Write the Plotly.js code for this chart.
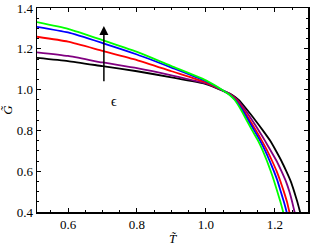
<!DOCTYPE html>
<html><head><meta charset="utf-8">
<script src="https://cdn.plot.ly/plotly-3.0.1.min.js"></script>
<style>html,body{margin:0;padding:0;background:#fff}</style>
</head><body><div id="chart" style="width:312px;height:249px"></div>
<script>
// left branch: shared T values
const tLeft = [0.51, 0.6, 0.7, 0.8, 0.9, 1.0, 1.055];
const gGreenL = [1.331, 1.298, 1.243, 1.185, 1.115, 1.045, 0.99];
const gBlueL = [1.308, 1.28, 1.228, 1.172, 1.108, 1.041, 0.99];
const gRedL = [1.259, 1.235, 1.19, 1.145, 1.09, 1.035, 0.99];
const gPurpleL = [1.183, 1.165, 1.133, 1.105, 1.07, 1.03, 0.99];
const gBlackL = [1.156, 1.14, 1.115, 1.09, 1.06, 1.027, 0.99];

// right branch: shared G levels, T read per series
const gRight = [0.975, 0.95, 0.9, 0.85, 0.8, 0.75, 0.7, 0.65, 0.6, 0.55, 0.5, 0.45, 0.4, 0.36];
const tGreenR = [1.068, 1.083, 1.102, 1.118, 1.134, 1.151, 1.165, 1.177, 1.188, 1.198, 1.207, 1.216, 1.224, 1.23];
const tBlueR = [1.069, 1.085, 1.106, 1.123, 1.140, 1.157, 1.172, 1.185, 1.197, 1.208, 1.217, 1.226, 1.234, 1.239];
const tRedR = [1.071, 1.088, 1.109, 1.127, 1.145, 1.162, 1.178, 1.192, 1.205, 1.216, 1.226, 1.235, 1.242, 1.248];
const tPurpleR = [1.073, 1.091, 1.114, 1.134, 1.153, 1.171, 1.188, 1.205, 1.219, 1.232, 1.242, 1.25, 1.257, 1.262];
const tBlackR = [1.075, 1.095, 1.12, 1.143, 1.165, 1.186, 1.203, 1.219, 1.233, 1.246, 1.256, 1.265, 1.273, 1.279];

const series = [
  {color:'#000000', tR:tBlackR, gL:gBlackL},
  {color:'#800080', tR:tPurpleR, gL:gPurpleL},
  {color:'#ff0000', tR:tRedR, gL:gRedL},
  {color:'#0000ff', tR:tBlueR, gL:gBlueL},
  {color:'#00ff00', tR:tGreenR, gL:gGreenL}
];

const traces = series.map(s => ({
  x: tLeft.concat(s.tR),
  y: s.gL.concat(gRight),
  mode: 'lines',
  line: {color: s.color, width: 1.8, shape: 'spline', smoothing: 0.5},
  showlegend: false,
  hoverinfo: 'none'
}));

const fam = 'Liberation Serif, Times New Roman, serif';
const font = {family: fam, size: 13, color: '#000'};
const axisCommon = {
  showgrid: false, zeroline: false, showline: true, linecolor: '#000', linewidth: 1.5,
  mirror: 'allticks', ticks: 'inside', ticklen: 4, tickwidth: 1, tickcolor: '#000',
  minor: {dtick: 0.05, ticks: 'inside', ticklen: 2, tickwidth: 1, tickcolor: '#000'},
  tickfont: font
};

const layout = {
  width: 312, height: 249,
  margin: {l: 37, r: 4, t: 8, b: 37},
  paper_bgcolor: '#fff', plot_bgcolor: '#fff',
  font: font,
  xaxis: Object.assign({}, axisCommon, {
    range: [0.51, 1.296], tickvals: [0.6, 0.8, 1.0, 1.2], ticktext: ['0.6','0.8','1.0','1.2'],
    title: {text: '<i>T̃</i>', font: font, standoff: 3}
  }),
  yaxis: Object.assign({}, axisCommon, {
    range: [0.4, 1.4], tickvals: [0.4, 0.6, 0.8, 1.0, 1.2, 1.4], ticktext: ['0.4','0.6','0.8','1.0','1.2','1.4'],
    title: {text: '<i>G̃</i>', font: font, standoff: 6}
  }),
  annotations: [
    {x: 0.704, y: 1.312, ax: 0.704, ay: 1.034, xref: 'x', yref: 'y', axref: 'x', ayref: 'y',
     showarrow: true, arrowhead: 2, arrowsize: 1.2, arrowwidth: 1.5, arrowcolor: '#000', text: ''},
    {x: 0.732, y: 0.941, xref: 'x', yref: 'y', showarrow: false, text: 'ϵ',
     font: {family: fam, size: 14, color: '#000'}}
  ]
};

Plotly.newPlot('chart', traces, layout, {displayModeBar: false, staticPlot: true});
</script></body></html>
